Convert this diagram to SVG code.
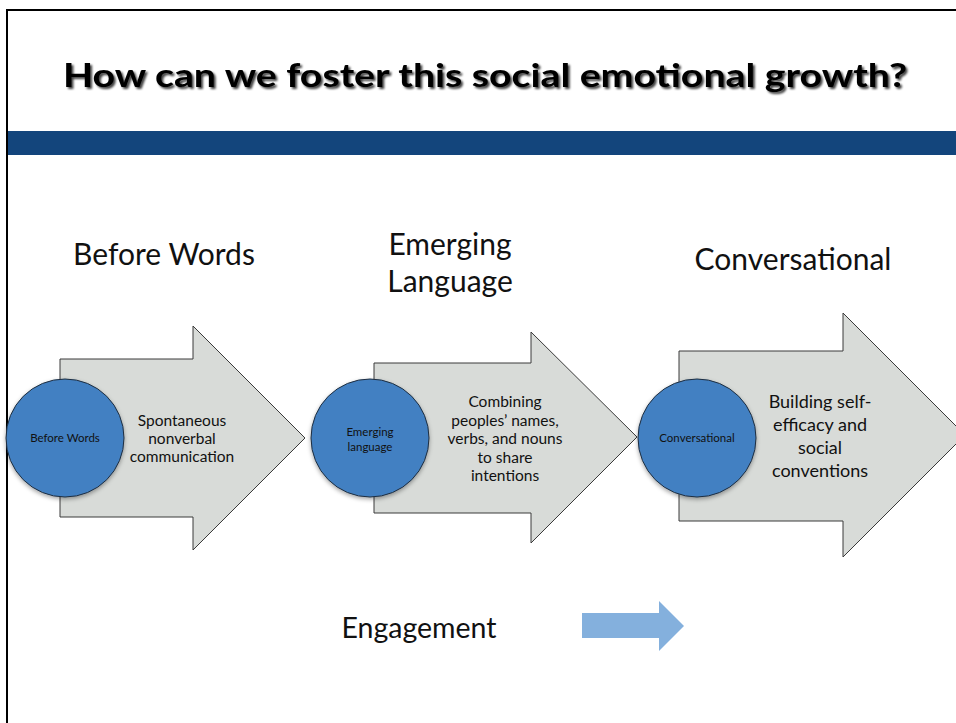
<svg xmlns="http://www.w3.org/2000/svg" width="956" height="723" viewBox="0 0 956 723">
  <defs>
    <filter id="titleShadow" x="-5%" y="-30%" width="110%" height="160%">
      <feDropShadow dx="2" dy="2" stdDeviation="1" flood-color="#000" flood-opacity="0.75"/>
    </filter>
    <filter id="circleShadow" x="-20%" y="-20%" width="140%" height="140%">
      <feDropShadow dx="0" dy="2" stdDeviation="2" flood-color="#000" flood-opacity="0.35"/>
    </filter>
  </defs>
  <style>
    .frame { fill: none; stroke: #000; stroke-width: 2; }
    .chev { fill: #d8dbd8; stroke: #3a3a3a; stroke-width: 1; }
    .stage { fill: #4380c2; stroke: #1e2e40; stroke-width: 1; filter: url(#circleShadow); }
    .t { font-family: Lato, "Open Sans", sans-serif; fill: #111; text-anchor: middle; }
    .head { font-size: 30px; }
    .small { font-size: 11.5px; }
    .body { font-size: 15.5px; }
    .body2 { font-size: 18px; }
  </style>

  <!-- slide frame and header band -->
  <rect x="0" y="0" width="956" height="723" fill="#fff"/>
  <path class="frame" d="M7 723 V10 H956"/>
  <rect x="8" y="131" width="948" height="24" fill="#13457c"/>
  <text x="485" y="87" text-anchor="middle" font-family="Lato, 'Liberation Sans', sans-serif" font-weight="bold" font-size="33" textLength="844" lengthAdjust="spacingAndGlyphs" fill="#000" filter="url(#titleShadow)">How can we foster this social emotional growth?</text>

  <!-- stage headings -->
  <text class="t head" x="164" y="265">Before Words</text>
  <text class="t head" x="450" y="255">Emerging</text>
  <text class="t head" x="450" y="292">Language</text>
  <text class="t head" x="793" y="270">Conversational</text>

  <!-- stage 1 -->
  <g id="before-words">
    <polygon class="chev" points="60,359 193,359 193,326 305,438 193,550 193,517 60,517"/>
    <circle class="stage" cx="65" cy="438" r="59"/>
    <text class="t small" x="65" y="442">Before Words</text>
    <text class="t body" x="182" y="426">Spontaneous</text>
    <text class="t body" x="182" y="444">nonverbal</text>
    <text class="t body" x="182" y="462">communication</text>
  </g>

  <!-- stage 2 -->
  <g id="emerging-language">
    <polygon class="chev" points="374,363 531,363 531,332 637,437 531,543 531,513 374,513"/>
    <circle class="stage" cx="370" cy="438" r="59"/>
    <text class="t small" x="370" y="436">Emerging</text>
    <text class="t small" x="370" y="451">language</text>
    <text class="t body" x="505" y="407">Combining</text>
    <text class="t body" x="505" y="426">peoples’ names,</text>
    <text class="t body" x="505" y="444">verbs, and nouns</text>
    <text class="t body" x="505" y="463">to share</text>
    <text class="t body" x="505" y="481">intentions</text>
  </g>

  <!-- stage 3 -->
  <g id="conversational">
    <polygon class="chev" points="679,351 843,351 843,313 965,435 843,557 843,521 679,521"/>
    <circle class="stage" cx="697" cy="438" r="59"/>
    <text class="t small" x="697" y="442">Conversational</text>
    <text class="t body2" x="820" y="408">Building self-</text>
    <text class="t body2" x="820" y="431">efficacy and</text>
    <text class="t body2" x="820" y="454">social</text>
    <text class="t body2" x="820" y="477">conventions</text>
  </g>

  <!-- engagement direction -->
  <g id="engagement">
    <text class="t" x="419" y="638" font-size="28.5">Engagement</text>
  </g>
  <g id="connectors">
    <polygon points="582,613 659,613 659,601 684,626 659,651 659,638 582,638" fill="#84b0dd"/>
  </g>
</svg>
